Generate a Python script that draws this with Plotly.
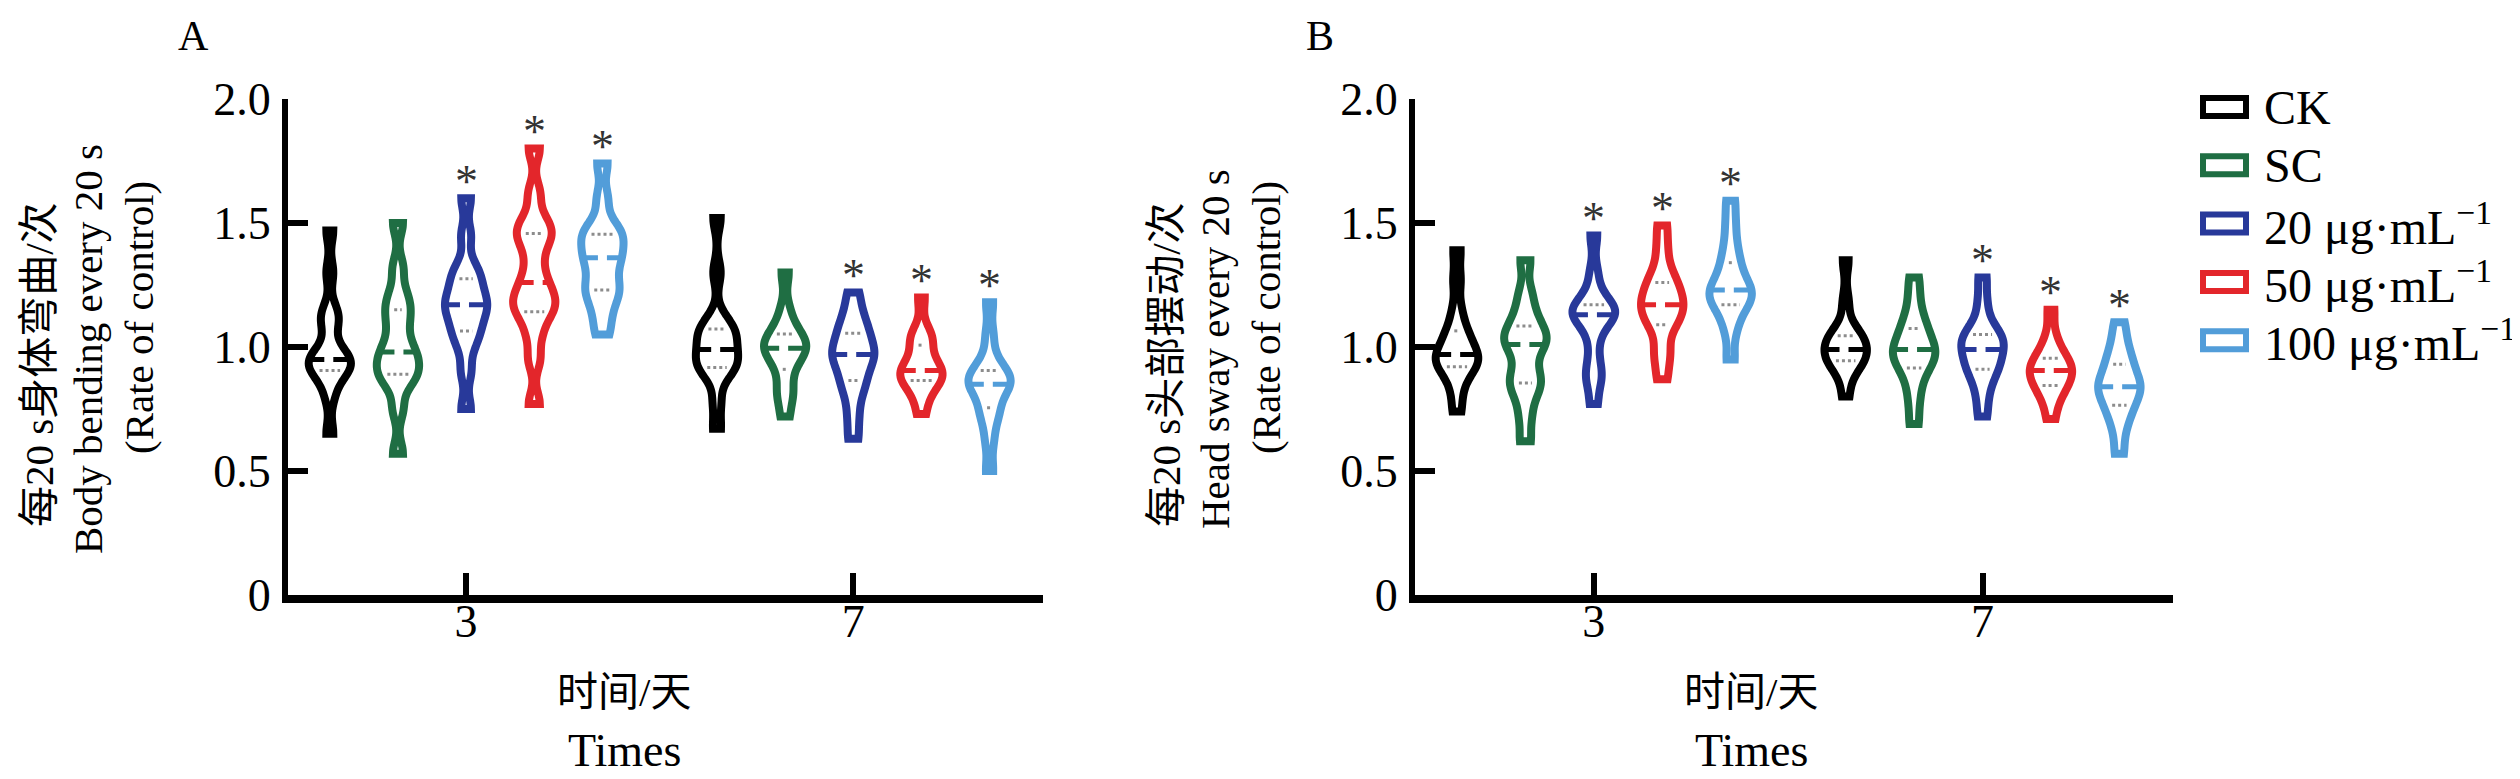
import numpy as np
import plotly.graph_objects as go

days = ["3", "7"]
groups = ["CK", "SC", "20 μg·mL<sup>−1</sup>", "50 μg·mL<sup>−1</sup>", "100 μg·mL<sup>−1</sup>"]
colors = ["#000000", "#1f6e43", "#28399a", "#e3262b", "#529dd9"]

# body bending every 20 s (rate of control), one list per group
bend_day3 = [
    [0.65, 0.80, 0.87, 0.89, 0.92, 0.93, 0.94, 0.95, 0.97, 1.00, 1.08, 1.12, 1.15, 1.30, 1.47],
    [0.57, 0.75, 0.85, 0.88, 0.90, 0.93, 0.96, 0.98, 1.02, 1.08, 1.13, 1.17, 1.22, 1.32, 1.50],
    [0.75, 0.90, 1.00, 1.05, 1.08, 1.12, 1.15, 1.17, 1.19, 1.22, 1.26, 1.29, 1.33, 1.45, 1.60],
    [0.77, 0.95, 1.05, 1.12, 1.15, 1.18, 1.20, 1.24, 1.28, 1.35, 1.42, 1.45, 1.48, 1.52, 1.62, 1.80],
    [1.05, 1.12, 1.18, 1.22, 1.24, 1.28, 1.33, 1.36, 1.38, 1.42, 1.45, 1.46, 1.50, 1.60, 1.74],
]
bend_day7 = [
    [0.67, 0.78, 0.88, 0.91, 0.92, 0.94, 0.96, 0.98, 1.00, 1.03, 1.05, 1.07, 1.08, 1.12, 1.30, 1.52],
    [0.72, 0.80, 0.83, 0.90, 0.94, 0.97, 0.99, 1.00, 1.01, 1.03, 1.06, 1.08, 1.15, 1.30],
    [0.63, 0.72, 0.80, 0.85, 0.88, 0.92, 0.95, 0.97, 0.98, 1.01, 1.04, 1.07, 1.10, 1.15, 1.22],
    [0.73, 0.80, 0.84, 0.86, 0.88, 0.89, 0.90, 0.91, 0.93, 0.97, 1.02, 1.04, 1.06, 1.20],
    [0.50, 0.62, 0.70, 0.74, 0.77, 0.82, 0.84, 0.85, 0.86, 0.88, 0.90, 0.91, 0.96, 1.05, 1.18],
]

# head sway every 20 s (rate of control)
sway_day3 = [
    [0.74, 0.82, 0.88, 0.91, 0.93, 0.94, 0.96, 0.97, 0.99, 1.02, 1.05, 1.08, 1.15, 1.27, 1.39],
    [0.62, 0.72, 0.80, 0.84, 0.87, 0.90, 0.96, 1.01, 1.02, 1.04, 1.07, 1.10, 1.15, 1.22, 1.35],
    [0.77, 0.86, 0.89, 0.95, 1.03, 1.09, 1.11, 1.13, 1.14, 1.15, 1.16, 1.18, 1.22, 1.30, 1.45],
    [0.87, 0.95, 1.00, 1.08, 1.10, 1.13, 1.16, 1.17, 1.19, 1.22, 1.25, 1.27, 1.32, 1.40, 1.49],
    [0.95, 1.06, 1.12, 1.16, 1.18, 1.20, 1.22, 1.23, 1.25, 1.28, 1.32, 1.36, 1.42, 1.50, 1.59],
]
sway_day7 = [
    [0.80, 0.88, 0.92, 0.94, 0.95, 0.96, 0.98, 0.99, 1.01, 1.03, 1.04, 1.05, 1.08, 1.18, 1.35],
    [0.69, 0.78, 0.85, 0.90, 0.93, 0.95, 0.97, 0.99, 1.00, 1.03, 1.06, 1.09, 1.13, 1.20, 1.28],
    [0.72, 0.80, 0.86, 0.90, 0.92, 0.94, 0.97, 0.99, 1.01, 1.03, 1.04, 1.06, 1.10, 1.18, 1.28],
    [0.71, 0.78, 0.82, 0.84, 0.86, 0.88, 0.90, 0.91, 0.92, 0.94, 0.96, 0.99, 1.04, 1.15],
    [0.57, 0.66, 0.72, 0.75, 0.78, 0.81, 0.83, 0.84, 0.86, 0.88, 0.92, 0.94, 0.98, 1.03, 1.10],
]

# groups marked with * (vs CK), per day
bend_star = [[False, False, True, True, True], [False, False, True, True, True]]
sway_star = [[False, False, True, True, True], [False, False, True, True, True]]

bend_title = ["每20 s身体弯曲/次", "Body bending every 20 s", "(Rate of control)"]
sway_title = ["每20 s头部摆动/次", "Head sway every 20 s", "(Rate of control)"]
x_title = ["时间/天", "Times"]

W, H = 2520, 779
TOP, BOTTOM = 91, 587          # pixel rows of y=2.0 and y=0
FONT = "Liberation Serif, Noto Sans CJK SC, serif"
GAP = 0.12
GROUPGAP = 0.38
BW = 0.048
PX_PER_UNIT = 758 / 1.95


def py(row):
    # pixel row -> paper y (paper spans the plot area only)
    return (BOTTOM - row) / (BOTTOM - TOP)


def density(vals, t):
    vals = np.asarray(vals)
    t = np.atleast_1d(t)
    return np.exp(-0.5 * ((t[:, None] - vals[None, :]) / BW) ** 2).sum(axis=1)


def slot(i, n):
    frac = 1 - GAP
    half = 0.5 * frac * (1 - GROUPGAP) / n
    shift = (-0.5 + (i + 0.5) / n) * frac
    return shift, half


panels = [
    ("x", "y", [bend_day3, bend_day7], bend_star, "A", 280, bend_title),
    ("x2", "y2", [sway_day3, sway_day7], sway_star, "B", 1407, sway_title),
]

fig = go.Figure()
annotations = []

for xa, ya, data, stars, label, x0px, ytitle in panels:
    for gi, (name, col) in enumerate(zip(groups, colors)):
        shift, half = slot(gi, len(groups))
        for di, day in enumerate(days):
            vals = data[di][gi]
            fig.add_trace(go.Violin(
                x=[di] * len(vals), y=vals, xaxis=xa, yaxis=ya,
                name=name, offsetgroup=name, scalegroup=xa + day + str(gi),
                spanmode="hard", bandwidth=BW, points=False,
                line=dict(color=col, width=8), fillcolor="rgba(0,0,0,0)",
                showlegend=False, hoverinfo="skip"))

            # median / quartile lines across the violin body
            grid = np.linspace(min(vals), max(vals), 400)
            dmax = density(vals, grid).max()
            c = di + shift
            q1, med, q3 = np.percentile(vals, [25, 50, 75])
            hw = half * density(vals, med)[0] / dmax
            fig.add_trace(go.Scatter(
                x=[c - hw, c + hw], y=[med, med], xaxis=xa, yaxis=ya, mode="lines",
                line=dict(color=col, width=5, dash="15px,9px"),
                showlegend=False, hoverinfo="skip"))
            for q in (q1, q3):
                hq = half * density(vals, q)[0] / dmax - 9 / PX_PER_UNIT
                if hq > 0:
                    fig.add_trace(go.Scatter(
                        x=[c - hq, c + hq], y=[q, q], xaxis=xa, yaxis=ya, mode="lines",
                        line=dict(color="#8c8c8c", width=3, dash="dot"),
                        showlegend=False, hoverinfo="skip"))

            if stars[di][gi]:
                annotations.append(dict(
                    text="*", x=c, y=max(vals), xref=xa, yref=ya,
                    xanchor="center", yanchor="middle", yshift=17, showarrow=False,
                    font=dict(size=46, color="#333333", family=FONT)))

    # x title, two lines
    for line, row, size in zip(x_title, [684, 742], [41, 46]):
        annotations.append(dict(
            text=line, x=(x0px + 336) / W, y=py(row), xref="paper", yref="paper",
            xanchor="center", yanchor="middle", showarrow=False, font=dict(size=size, family=FONT)))
    # y title, three rotated lines
    for line, dx, row in zip(ytitle, [249, 200, 149], [357, 341, 310]):
        annotations.append(dict(
            text=line, x=(x0px - dx) / W, y=py(row), xref="paper", yref="paper",
            textangle=-90, xanchor="center", yanchor="middle", showarrow=False,
            font=dict(size=41, family=FONT)))
    annotations.append(dict(
        text=label, x=(x0px - 95) / W, y=py(28), xref="paper", yref="paper",
        xanchor="center", yanchor="middle", showarrow=False, font=dict(size=42, family=FONT)))

# legend drawn as outlined boxes plus labels
for i, (name, col) in enumerate(zip(groups, colors)):
    row = 99 + i * 58.3
    fig.add_shape(type="rect", xref="paper", yref="paper",
                  x0=2195 / W, x1=2238 / W, y0=py(row + 9), y1=py(row - 9),
                  line=dict(color=col, width=6), fillcolor="white")
    annotations.append(dict(text=name, x=2254 / W, y=py(row), xref="paper", yref="paper",
                            xanchor="left", yanchor="middle", showarrow=False,
                            font=dict(size=48, family=FONT)))

xaxis_style = dict(range=[-0.46, 1.49], tickvals=[0, 1], ticktext=days,
                   showline=True, linewidth=8, linecolor="black", ticks="inside",
                   ticklen=22, tickwidth=6, tickcolor="black", showgrid=False, zeroline=False,
                   tickfont=dict(size=46, family=FONT), ticklabelstandoff=-21)
yaxis_style = dict(range=[0, 2], tickvals=[0, 0.5, 1, 1.5, 2],
                   ticktext=["0", "0.5", "1.0", "1.5", "2.0"],
                   showline=True, linewidth=6, linecolor="black", ticks="inside",
                   ticklen=20, tickwidth=6, tickcolor="black", showgrid=False, zeroline=False,
                   tickfont=dict(size=46, family=FONT), ticklabelstandoff=2)

fig.update_layout(
    width=W, height=H,
    margin=dict(l=0, r=0, t=TOP, b=H - BOTTOM),
    paper_bgcolor="white", plot_bgcolor="white",
    font=dict(family=FONT, color="black"),
    violinmode="group", violingap=GAP, violingroupgap=GROUPGAP,
    showlegend=False,
    xaxis=dict(domain=[280 / W, 1035 / W], anchor="y", **xaxis_style),
    yaxis=dict(anchor="x", **yaxis_style),
    xaxis2=dict(domain=[1407 / W, 2165 / W], anchor="y2", **xaxis_style),
    yaxis2=dict(anchor="x2", **yaxis_style),
    annotations=annotations,
)

fig.write_html("out.html")
